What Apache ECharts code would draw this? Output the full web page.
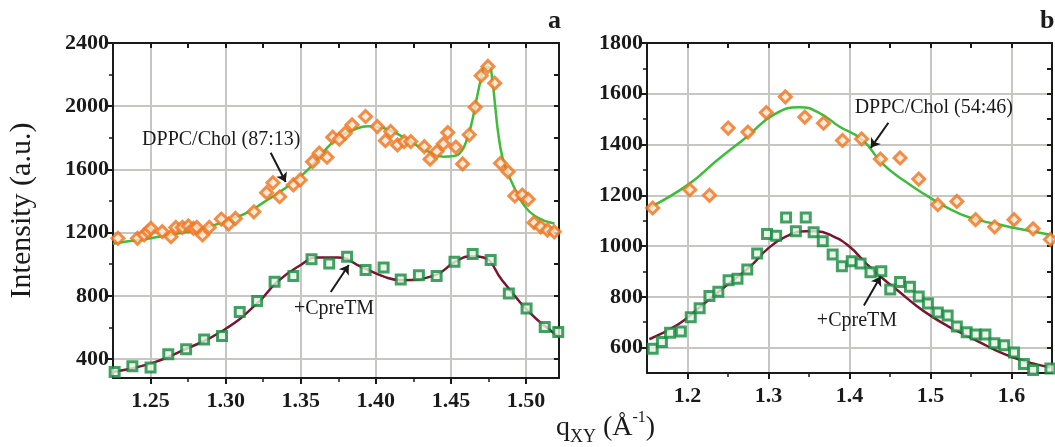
<!DOCTYPE html>
<html>
<head>
<meta charset="utf-8">
<script src="https://cdn.jsdelivr.net/npm/echarts@6/dist/echarts.min.js"></script>
<style>
  html, body { margin: 0; padding: 0; background: #fff; }
  #chart { width: 1055px; height: 447px; }
</style>
</head>
<body>
<div id="chart"></div>
<script>
// panel a: DPPC/Chol (87:13) and +CpreTM
var cholA = [
  [1.2283, 1164], [1.2413, 1164], [1.2457, 1185], [1.2484, 1206], [1.2502, 1227],
  [1.2578, 1206], [1.2636, 1174], [1.2668, 1233], [1.2712, 1233], [1.2752, 1242],
  [1.2786, 1227], [1.2808, 1233], [1.2846, 1185], [1.2891, 1233], [1.2971, 1286],
  [1.3020, 1254], [1.3065, 1290], [1.3188, 1332], [1.3273, 1453], [1.3315, 1516],
  [1.3360, 1427], [1.3451, 1502], [1.3496, 1533], [1.3579, 1649], [1.3623, 1703],
  [1.3675, 1677], [1.3713, 1804], [1.3757, 1791], [1.3796, 1829], [1.3842, 1882],
  [1.3932, 1935], [1.4010, 1871], [1.4064, 1782], [1.4099, 1840], [1.4144, 1755],
  [1.4189, 1776], [1.4233, 1776], [1.4323, 1744], [1.4361, 1665], [1.4406, 1713],
  [1.4450, 1762], [1.4479, 1833], [1.4533, 1741], [1.4578, 1635], [1.4622, 1819],
  [1.4662, 1994], [1.4702, 2193], [1.4747, 2252], [1.4792, 2146], [1.4830, 1639],
  [1.4881, 1586], [1.4926, 1432], [1.4975, 1438], [1.5015, 1411], [1.5054, 1263],
  [1.5098, 1237], [1.5143, 1216], [1.5188, 1205]
]
var fitCholA = [
  [1.225, 1130], [1.235, 1145], [1.25, 1165], [1.265, 1190], [1.275, 1206],
  [1.285, 1228], [1.295, 1255], [1.305, 1290], [1.315, 1330], [1.325, 1390],
  [1.335, 1450], [1.345, 1520], [1.355, 1600], [1.365, 1710], [1.375, 1800],
  [1.385, 1850], [1.395, 1873], [1.405, 1862], [1.415, 1822], [1.425, 1765],
  [1.435, 1712], [1.445, 1680], [1.452, 1685], [1.457, 1715], [1.461, 1800],
  [1.464, 1900], [1.467, 2040], [1.470, 2170], [1.4725, 2245], [1.4755, 2245],
  [1.4775, 2170], [1.4795, 2000], [1.4815, 1830], [1.4845, 1670], [1.488, 1575],
  [1.4925, 1480], [1.4975, 1390], [1.506, 1305], [1.519, 1258]
]
var cpreA = [
  [1.2261, 318], [1.2379, 354], [1.25, 346], [1.2618, 430], [1.2737, 462],
  [1.2857, 523], [1.2976, 546], [1.3094, 698], [1.3210, 768], [1.3326, 889],
  [1.3451, 925], [1.3572, 1031], [1.3690, 1005], [1.3809, 1047], [1.3932, 963],
  [1.4052, 980], [1.4166, 904], [1.4287, 931], [1.4405, 925], [1.4524, 1015],
  [1.4645, 1064], [1.4765, 1026], [1.4886, 815], [1.5004, 720], [1.5125, 603],
  [1.5215, 571]
]
var fitCpreA = [
  [1.225, 318], [1.25, 371], [1.2718, 456], [1.2986, 582], [1.321, 752],
  [1.3344, 889], [1.35, 995], [1.3612, 1043], [1.3747, 1043], [1.3903, 984],
  [1.4059, 920], [1.4171, 899], [1.4394, 931], [1.4528, 1015], [1.464, 1051],
  [1.4718, 1043], [1.4841, 899], [1.502, 698], [1.5176, 571], [1.522, 540]
]

// panel b: DPPC/Chol (54:46) and +CpreTM
var cholB = [
  [1.157, 1150], [1.2028, 1222], [1.2271, 1200], [1.2502, 1465], [1.2746, 1449],
  [1.2973, 1526], [1.3208, 1588], [1.3448, 1508], [1.3679, 1484], [1.3914, 1416],
  [1.4150, 1422], [1.4381, 1343], [1.4624, 1347], [1.4855, 1264], [1.5090, 1163],
  [1.5325, 1176], [1.5556, 1104], [1.5792, 1076], [1.6031, 1104], [1.6266, 1068],
  [1.648, 1026]
]
var fitCholB = [
  [1.152, 1150], [1.2008, 1242], [1.2373, 1340], [1.2738, 1432], [1.3062, 1517],
  [1.3387, 1547], [1.363, 1524], [1.3873, 1471], [1.4157, 1419], [1.44, 1327],
  [1.4685, 1255], [1.4968, 1196], [1.5252, 1144], [1.5577, 1104], [1.5901, 1081],
  [1.6023, 1072], [1.648, 1045]
]
var cpreB = [
  [1.157, 596], [1.1684, 622], [1.1785, 659], [1.1918, 663], [1.204, 720],
  [1.215, 755], [1.2271, 803], [1.2381, 820], [1.2507, 865], [1.2617, 871],
  [1.2738, 908], [1.286, 971], [1.2982, 1048], [1.3095, 1041], [1.3217, 1113],
  [1.3338, 1058], [1.346, 1113], [1.3557, 1054], [1.367, 1019], [1.3792, 967],
  [1.3906, 921], [1.4028, 940], [1.4137, 931], [1.4259, 897], [1.4393, 901],
  [1.4503, 829], [1.4624, 858], [1.4746, 840], [1.4855, 801], [1.4968, 774],
  [1.509, 738], [1.5212, 727], [1.5325, 683], [1.5447, 661], [1.5557, 652],
  [1.5678, 652], [1.5788, 617], [1.591, 609], [1.6031, 581], [1.6153, 535],
  [1.6267, 512], [1.648, 518]
]
var fitCpreB = [
  [1.1529, 633], [1.1887, 692], [1.217, 764], [1.2495, 849], [1.2779, 921],
  [1.2982, 987], [1.3225, 1039], [1.3468, 1058], [1.359, 1058], [1.3792, 1039],
  [1.3995, 999], [1.4198, 934], [1.44, 875], [1.4603, 823], [1.4806, 770],
  [1.5009, 724], [1.5212, 685], [1.5414, 652], [1.5617, 620], [1.582, 587],
  [1.6023, 561], [1.6225, 541], [1.648, 522]
]

// tick values
var xTicksA = [1.25, 1.30, 1.35, 1.40, 1.45, 1.50]
var xMinorA = [1.25, 1.275, 1.30, 1.325, 1.35, 1.375, 1.40, 1.425, 1.45, 1.475, 1.50]
var yTicksA = [400, 800, 1200, 1600, 2000, 2400]
var yMinorA = [400, 600, 800, 1000, 1200, 1400, 1600, 1800, 2000, 2200, 2400]
var xTicksB = [1.2, 1.3, 1.4, 1.5, 1.6]
var xMinorB = [1.2, 1.25, 1.3, 1.35, 1.4, 1.45, 1.5, 1.55, 1.6]
var yTicksB = [600, 800, 1000, 1200, 1400, 1600, 1800]
var yMinorB = [600, 700, 800, 900, 1000, 1100, 1200, 1300, 1400, 1500, 1600, 1700, 1800]

var font = 'Liberation Serif'
var ink = '#1a1a1a'
var gridGray = '#c6c6c2'
var orange = '#f0731c'
var green = '#138a3c'
var lime = '#3dbd3a'
var wine = '#7b1430'

function mainAxis(gi, pos, min, max, ticks, fmt) {
  return {
    type: 'value', gridIndex: gi, position: pos, min: min, max: max,
    axisLine: { show: true, onZero: false, lineStyle: { color: ink, width: 2 } },
    axisTick: { show: true, inside: false, length: 6, customValues: ticks, lineStyle: { color: ink, width: 2 } },
    axisLabel: {
      customValues: ticks, formatter: fmt, fontFamily: font, fontWeight: 'bold',
      fontSize: 22, color: ink, margin: pos === 'bottom' ? 12 : 4
    },
    splitLine: { show: true, lineStyle: { color: gridGray, width: 2 } }
  }
}

// short outside ticks at the minor steps, no line
function minorAxis(gi, pos, min, max, ticks) {
  return {
    type: 'value', gridIndex: gi, position: pos, min: min, max: max,
    axisLine: { show: false, onZero: false },
    axisTick: { show: true, inside: false, length: 4, customValues: ticks, lineStyle: { color: ink, width: 1.5 } },
    axisLabel: { show: false },
    splitLine: { show: false }
  }
}

function boxAxis(gi, pos, min, max, ticks) {
  return {
    type: 'value', gridIndex: gi, position: pos, min: min, max: max,
    axisLine: { show: true, onZero: false, lineStyle: { color: ink, width: 2 } },
    axisTick: { show: true, inside: true, length: 5, customValues: ticks, lineStyle: { color: ink, width: 2 } },
    axisLabel: { show: false },
    splitLine: { show: false }
  }
}

var textStyle = { fontFamily: font, fontSize: 20, color: ink }

function note(x, y, text) {
  return { coord: [x, y], label: { formatter: text } }
}
function arrow(x1, y1, x2, y2) {
  return [{ coord: [x1, y1] }, { coord: [x2, y2] }]
}

function fitLine(xi, yi, data, color, notes, arrows) {
  return {
    type: 'line', xAxisIndex: xi, yAxisIndex: yi, data: data,
    smooth: 0.5, showSymbol: false, clip: true,
    lineStyle: { color: color, width: 2.5 }, z: 2,
    markPoint: {
      symbol: 'rect', symbolSize: 1, itemStyle: { color: 'rgba(0,0,0,0)' },
      label: Object.assign({ show: true, position: 'inside' }, textStyle),
      data: notes
    },
    markLine: {
      silent: true, symbol: ['none', 'arrow'], symbolSize: 9,
      lineStyle: { color: ink, width: 2, type: 'solid' },
      label: { show: false }, data: arrows
    }
  }
}

function dots(xi, yi, data, shape, size, color, fill) {
  return {
    type: 'scatter', xAxisIndex: xi, yAxisIndex: yi, data: data,
    symbol: shape, symbolSize: size, clip: false, z: 3,
    itemStyle: { color: fill, borderColor: color, borderWidth: 3 }
  }
}

var chart = echarts.init(document.getElementById('chart'))

var option = {
  animation: false,
  grid: [
    { left: 113, top: 43, width: 446, height: 335 },
    { left: 647, top: 43, width: 405, height: 330 }
  ],
  xAxis: [
    mainAxis(0, 'bottom', 1.225, 1.522, xTicksA, function (v) { return v.toFixed(2) }),
    boxAxis(0, 'top', 1.225, 1.522, xMinorA),
    mainAxis(1, 'bottom', 1.15, 1.65, xTicksB, function (v) { return v.toFixed(1) }),
    boxAxis(1, 'top', 1.15, 1.65, xMinorB),
    minorAxis(0, 'bottom', 1.225, 1.522, xMinorA),
    minorAxis(1, 'bottom', 1.15, 1.65, xMinorB)
  ],
  yAxis: [
    Object.assign(mainAxis(0, 'left', 280, 2400, yTicksA, function (v) { return v }), {
      name: 'Intensity (a.u.)', nameLocation: 'middle', nameGap: 76,
      nameTextStyle: { fontFamily: font, fontSize: 30, color: ink }
    }),
    boxAxis(0, 'right', 280, 2400, yMinorA),
    mainAxis(1, 'left', 500, 1800, yTicksB, function (v) { return v }),
    boxAxis(1, 'right', 500, 1800, yMinorB),
    minorAxis(0, 'left', 280, 2400, yMinorA),
    minorAxis(1, 'left', 500, 1800, yMinorB)
  ],
  series: [
    fitLine(0, 0, fitCholA, lime,
      [note(1.2971, 1787, 'DPPC/Chol (87:13)')],
      [arrow(1.330, 1705, 1.340, 1520)]),
    fitLine(0, 0, fitCpreA, wine,
      [note(1.3722, 716, '+CpreTM')],
      [arrow(1.370, 824, 1.382, 995)]),
    fitLine(2, 2, fitCholB, lime,
      [note(1.5041, 1545, 'DPPC/Chol (54:46)')],
      [arrow(1.448, 1486, 1.4263, 1387)]),
    fitLine(2, 2, fitCpreB, wine,
      [note(1.4092, 704, '+CpreTM')],
      [arrow(1.4178, 766, 1.4384, 880)]),
    dots(0, 0, cholA, 'diamond', 12, orange, '#fbe3cf'),
    dots(0, 0, cpreA, 'rect', 9, green, '#e6f4e6'),
    dots(2, 2, cholB, 'diamond', 12, orange, '#fbe3cf'),
    dots(2, 2, cpreB, 'rect', 9, green, '#e6f4e6')
  ],
  graphic: [
    { type: 'text', left: 548, top: 8, style: { text: 'a', fontFamily: font, fontWeight: 'bold', fontSize: 26, fill: ink } },
    { type: 'text', left: 1040, top: 8, style: { text: 'b', fontFamily: font, fontWeight: 'bold', fontSize: 26, fill: ink } },
    {
      type: 'text', left: 556, top: 410,
      style: {
        text: '{q|q}{sub|XY}{n| (Å}{sup|-1}{n|)}',
        fill: ink,
        rich: {
          q: { fontFamily: font, fontSize: 28, fill: ink, lineHeight: 36, verticalAlign: 'middle' },
          n: { fontFamily: font, fontSize: 28, fill: ink, lineHeight: 36, verticalAlign: 'middle' },
          sub: { fontFamily: font, fontSize: 18, fill: ink, lineHeight: 36, verticalAlign: 'bottom' },
          sup: { fontFamily: font, fontSize: 16, fill: ink, lineHeight: 36, verticalAlign: 'top' }
        }
      }
    }
  ]
}

chart.setOption(option)
</script>
</body>
</html>
